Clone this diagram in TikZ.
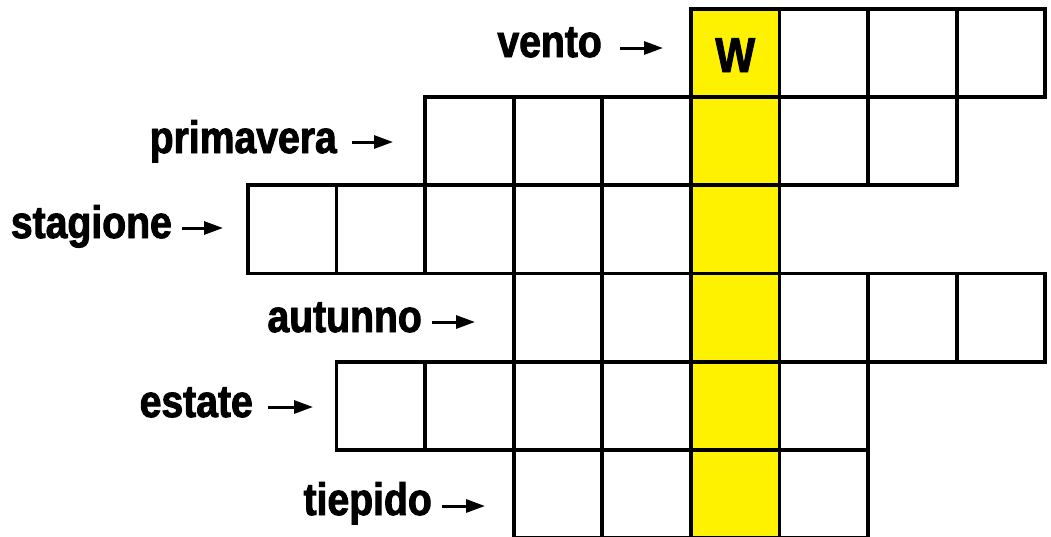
\documentclass[tikz,border=0pt]{standalone}
\usepackage{fontspec}
\setmainfont{Liberation Sans}[FakeStretch=0.86,BoldFeatures={FakeBold=2}]
\usetikzlibrary{arrows.meta}
\definecolor{cwyellow}{RGB}{255,242,0}
\tikzset{
  cell/.style={draw=black, line width=3.8pt, minimum width=88.6pt, minimum height=88.2pt, inner sep=0pt, anchor=north west, fill=white},
  hot/.style={cell, fill=cwyellow},
  clue/.style={font=\fontsize{45.5}{45}\selectfont\bfseries, inner sep=0pt, anchor=base east},
  arr/.style={line width=3pt, -{Triangle[length=19pt,width=13pt]}},
}
\begin{document}
\begin{tikzpicture}[x=1pt,y=-1pt]
\useasboundingbox (0,0) rectangle (1051,536);
% rows: row index, first col, last col
\foreach \r/\a/\b in {0/5/8,1/2/7,2/0/5,3/3/8,4/1/6,5/3/6}{
  \foreach \k in {\a,...,\b}{
    \ifnum\k=5
      \node[hot] (c-\r-\k) at ({246+88.6*\k},{7+88.2*\r}) {};
    \else
      \node[cell] (c-\r-\k) at ({246+88.6*\k},{7+88.2*\r}) {};
    \fi
  }
}
\node[font=\fontsize{49}{49}\selectfont\bfseries, inner sep=0pt, anchor=base] (w) at (c-0-5.center |- 0,72) {W};
% clues
\node[clue] (l0) at (602,57) {vento};
\node[clue] (l1) at (337,153) {primavera};
\node[clue] (l2) at (172,238) {stagione};
\node[clue] (l3) at (422,332) {autunno};
\node[clue] (l4) at (253,417) {estate};
\node[clue] (l5) at (432,515) {tiepido};
% arrows
\coordinate (s0) at (620,48);  \coordinate (e0) at (663,48);
\coordinate (s1) at (352,142); \coordinate (e1) at (393,142);
\coordinate (s2) at (182,228); \coordinate (e2) at (223,228);
\coordinate (s3) at (432,322); \coordinate (e3) at (475,322);
\coordinate (s4) at (268,407); \coordinate (e4) at (313,407);
\coordinate (s5) at (442,506); \coordinate (e5) at (485,506);
\foreach \i in {0,...,5}{\draw[arr] (s\i) -- (e\i);}
\end{tikzpicture}
\end{document}
